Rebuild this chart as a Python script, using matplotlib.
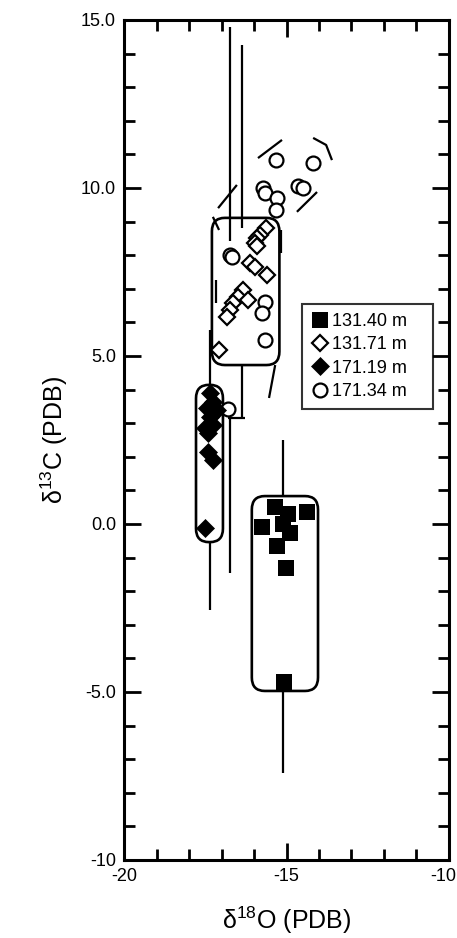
import matplotlib
matplotlib.use("Agg")
import matplotlib.pyplot as plt
from matplotlib.patches import FancyBboxPatch
from matplotlib.collections import LineCollection
from matplotlib.ticker import MultipleLocator

plt.rcParams["font.family"] = ["Liberation Sans", "DejaVu Sans"]

# --- data (delta18O, delta13C, per-mil PDB) ---
sq_x = [-15.36, -14.95, -14.37, -15.75, -15.11, -14.89, -15.29, -15.01, -15.08]
sq_y = [0.51, 0.30, 0.36, -0.09, 0.00, -0.27, -0.65, -1.31, -4.70]

od_x = [-15.63, -15.82, -15.91, -15.97, -15.91, -16.13, -15.97, -15.60,
        -16.34, -16.50, -16.19, -16.65, -16.74, -16.84, -17.08]
od_y = [8.81, 8.60, 8.51, 8.36, 8.27, 7.77, 7.65, 7.41,
        6.96, 6.76, 6.67, 6.58, 6.37, 6.16, 5.18]

fd_x = [-17.36, -17.27, -17.45, -17.15, -17.36, -17.52, -17.27, -17.42,
        -17.42, -17.27, -17.52]
fd_y = [3.90, 3.63, 3.45, 3.39, 3.18, 2.85, 2.95, 2.71, 2.14, 1.90, -0.12]

oc_x = [-15.32, -14.18, -15.73, -15.66, -15.29, -15.32, -14.65, -14.49,
        -16.74, -16.68, -15.66, -15.76, -15.66, -16.81]
oc_y = [10.83, 10.74, 10.00, 9.85, 9.70, 9.35, 10.06, 10.00,
        8.01, 7.95, 6.61, 6.28, 5.48, 3.42]

labels = ["131.40 m", "131.71 m", "171.19 m", "171.34 m"]

# envelopes: (x0, y0, x1, y1)
boxes = [
    (-17.30, 4.73, -15.22, 9.11),
    (-17.79, -0.54, -16.96, 4.14),
    (-16.07, -4.97, -14.03, 0.83),
]

# range bars and dashed-envelope pieces, each a list of (x, y)
segments = [
    [(-16.74, 14.80), (-16.74, 8.42)],
    [(-16.37, 14.26), (-16.37, 8.81)],
    [(-16.37, 4.73), (-16.37, 3.15)],
    [(-16.81, 3.15), (-16.28, 3.15)],
    [(-16.74, 3.15), (-16.74, -1.46)],
    [(-17.36, 5.77), (-17.36, 4.14)],
    [(-17.36, -0.54), (-17.36, -2.56)],
    [(-15.11, 2.50), (-15.11, 0.83)],
    [(-15.11, -4.97), (-15.11, -7.40)],
    [(-17.11, 9.40), (-16.53, 10.09)],
    [(-15.88, 10.89), (-15.14, 11.43)],
    [(-14.18, 11.49), (-13.78, 11.28), (-13.60, 10.83)],
    [(-14.68, 9.29), (-14.06, 9.88)],
    [(-15.17, 8.75), (-15.17, 8.07)],
    [(-15.35, 4.73), (-15.54, 3.75)],
    [(-17.18, 7.26), (-17.18, 6.58)],
    [(-17.27, 9.14), (-17.08, 8.75)],
]

fig = plt.figure(figsize=(4.57, 9.38), dpi=100)
ax = fig.add_axes([0.272, 0.0832, 0.710, 0.8955])

ax.add_collection(LineCollection(segments, colors="black", linewidths=1.6, zorder=1))

for x0, y0, x1, y1 in boxes:
    ax.add_patch(FancyBboxPatch((x0, y0), x1 - x0, y1 - y0,
                                boxstyle="round,pad=0,rounding_size=0.4",
                                fc="none", ec="black", lw=1.9, zorder=2))

ax.plot(sq_x, sq_y, "s", ms=12, mfc="black", mec="black", mew=0, ls="none",
        label=labels[0], zorder=4)
ax.plot(od_x, od_y, "D", ms=8, mfc="white", mec="black", mew=1.6, ls="none",
        label=labels[1], zorder=4)
ax.plot(fd_x, fd_y, "D", ms=9, mfc="black", mec="black", mew=0.5, ls="none",
        label=labels[2], zorder=4)
ax.plot(oc_x, oc_y, "o", ms=10, mfc="white", mec="black", mew=1.6, ls="none",
        label=labels[3], zorder=3)

ax.set_xlim(-20, -10)
ax.set_ylim(-10, 15)
ax.xaxis.set_major_locator(MultipleLocator(5))
ax.xaxis.set_minor_locator(MultipleLocator(1))
ax.yaxis.set_major_locator(MultipleLocator(5))
ax.yaxis.set_minor_locator(MultipleLocator(1))
# the -10 label on x sits against the figure edge; it is placed by hand below
ax.xaxis.set_major_formatter(
    plt.FuncFormatter(lambda v, p: "" if v == -10 else "%d" % v))
ax.yaxis.set_major_formatter(
    plt.FuncFormatter(lambda v, p: "%d" % v if v == -10 else "%.1f" % v))

for s in ax.spines.values():
    s.set_linewidth(2.2)
ax.tick_params(which="both", direction="in", top=True, right=True, width=2,
               labelsize=13, colors="black")
ax.tick_params(which="major", length=12, pad=6)
ax.tick_params(which="minor", length=8)

fig.text(0.999, 0.0745, "-10", ha="right", va="top", fontsize=13)

ax.set_xlabel(r"$\mathregular{\delta^{18}O}$ (PDB)", fontsize=18, labelpad=14)
ax.set_ylabel(r"$\mathregular{\delta^{13}C}$ (PDB)", fontsize=18, labelpad=8)

leg = ax.legend(loc="upper left", bbox_to_anchor=(0.547, 0.542, 0.404, 0.12),
                mode="expand", fontsize=13, frameon=True, fancybox=False,
                handletextpad=0.2, handlelength=1.0, borderpad=0.5,
                labelspacing=0.35, borderaxespad=0)
leg.get_frame().set_edgecolor("black")
leg.get_frame().set_linewidth(1.5)

fig.savefig("out.png", dpi=100)
